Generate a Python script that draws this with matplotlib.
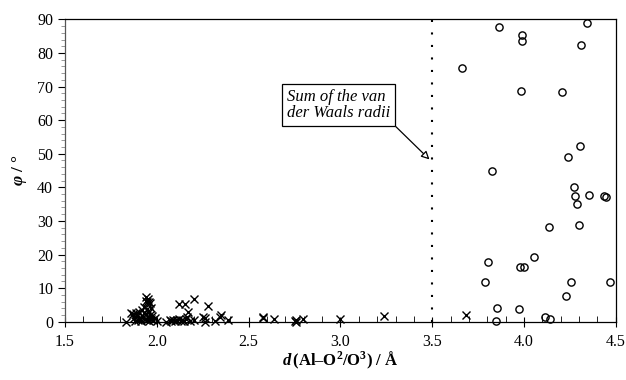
import matplotlib.pyplot as plt
from matplotlib.ticker import MultipleLocator

plt.rcParams.update({
    "font.family": "Liberation Serif", "font.size": 11.5,
    "mathtext.fontset": "custom",
    "mathtext.rm": "Liberation Serif:bold",
    "mathtext.it": "Liberation Serif:italic:bold",
    "mathtext.bf": "Liberation Serif:bold",
})

# O2 contacts (crosses): d / A, phi / deg
cross_d = [1.83, 1.86, 1.87, 1.875, 1.88, 1.885, 1.89, 1.90, 1.905, 1.91,
           1.915, 1.92, 1.925, 1.93, 1.93, 1.935, 1.94, 1.94, 1.942, 1.945,
           1.945, 1.948, 1.95, 1.95, 1.955, 1.955, 1.958, 1.96, 1.963, 1.965,
           1.97, 1.97, 1.975, 1.98, 1.99, 2.0,
           2.05, 2.07, 2.08, 2.09, 2.10, 2.11, 2.12, 2.13, 2.14, 2.15,
           2.12, 2.153, 2.202, 2.171, 2.166, 2.16, 2.18, 2.20,
           2.253, 2.262, 2.28, 2.26, 2.317, 2.344, 2.35, 2.389,
           2.576, 2.58, 2.64, 2.752, 2.757, 2.76, 2.797, 3.0, 3.24, 3.683]
cross_phi = [0.0, 2.7, 2.2, 1.2, 0.3, 2.5, 1.8, 0.5, 2.8, 1.0,
             0.2, 3.5, 1.5, 4.5, 2.6, 0.9, 7.3, 6.2, 2.2, 0.6,
             3.8, 6.0, 6.8, 1.4, 3.0, 0.1, 1.2, 5.8, 5.5, 2.0,
             4.0, 0.8, 1.6, 0.4, 1.0, 0.2,
             0.0, 0.5, 0.2, 0.6, 0.1, 0.4, 0.7, 0.2, 0.5, 0.1,
             5.3, 5.3, 6.8, 3.0, 1.5, 0.8, 0.3, 0.5,
             1.5, 1.0, 4.7, 0.0, 0.3, 1.5, 1.9, 0.6,
             1.5, 1.0, 0.8, 0.2, 0.0, 0.4, 0.8, 0.8, 1.7, 2.1]

# O3 contacts (circles)
circ_d = [3.863, 4.343, 3.989, 3.989, 4.309, 3.663, 3.982, 4.207, 4.303, 4.240,
          3.828, 4.271, 4.276, 4.354, 4.438, 4.449, 4.289, 4.136, 4.298, 3.801,
          4.053, 3.977, 4.002, 3.790, 4.253, 4.468, 4.226, 3.852, 3.975, 3.846,
          4.113, 4.144]
circ_phi = [87.8, 88.8, 85.4, 83.5, 82.4, 75.5, 68.75, 68.3, 52.2, 49.0,
            44.8, 40.1, 37.5, 37.8, 37.5, 37.2, 35.0, 28.3, 28.7, 17.9,
            19.3, 16.2, 16.2, 11.7, 11.9, 11.7, 7.6, 4.1, 3.8, 0.2,
            1.3, 0.8]

vdw_sum = 3.5

fig = plt.figure(figsize=(6.26, 3.80), dpi=100)
ax = fig.add_axes([0.1038, 0.1534, 0.880, 0.7956])

ax.plot(cross_d, cross_phi, linestyle="none", marker="x", ms=5.5, mew=1.0,
        color="black", clip_on=False, zorder=3)
ax.plot(circ_d, circ_phi, linestyle="none", marker="o", ms=5.2, mew=1.0,
        mfc="none", mec="black", clip_on=False, zorder=3)
ax.axvline(vdw_sum, color="black", lw=1.5, linestyle=(0, (1, 5)))

ax.annotate("Sum of the van\nder Waals radii", xy=(3.485, 48.3),
            xytext=(2.71, 64.5), fontsize=12, style="italic",
            ha="left", va="center", linespacing=1.05,
            bbox=dict(boxstyle="square,pad=0.3", fc="white", ec="black", lw=0.9),
            arrowprops=dict(arrowstyle="-|>", color="black", lw=0.9,
                            fc="white", shrinkA=0, shrinkB=0, relpos=(1, 0),
                            mutation_scale=12))

ax.set_xlim(1.5, 4.5)
ax.set_ylim(0, 90)
ax.xaxis.set_major_locator(MultipleLocator(0.5))
ax.xaxis.set_minor_locator(MultipleLocator(0.1))
ax.yaxis.set_major_locator(MultipleLocator(10))
ax.yaxis.set_minor_locator(MultipleLocator(2))
ax.xaxis.set_major_formatter(lambda v, p: f"{v:.1f}")
ax.tick_params(axis="x", which="major", direction="inout", length=7, width=0.8, pad=5)
ax.tick_params(axis="x", which="minor", direction="in", length=4, width=0.6)
ax.tick_params(axis="y", which="major", direction="out", length=5, width=0.8)
ax.tick_params(axis="y", which="minor", direction="out", length=3, width=0.6,
               color="#888888")
for s in ax.spines.values():
    s.set_linewidth(0.9)
ax.spines["left"].set_color("#555555")

ax.set_xlabel(r"$\mathit{d}\,$(Al–O$^{2}$/O$^{3}$) / Å", fontweight="bold",
              fontsize=12, labelpad=0)
ax.set_ylabel(r"$\mathit{\varphi}$ / °", fontweight="bold", fontsize=12.5,
              labelpad=6)

fig.savefig("out.png", dpi=100)
